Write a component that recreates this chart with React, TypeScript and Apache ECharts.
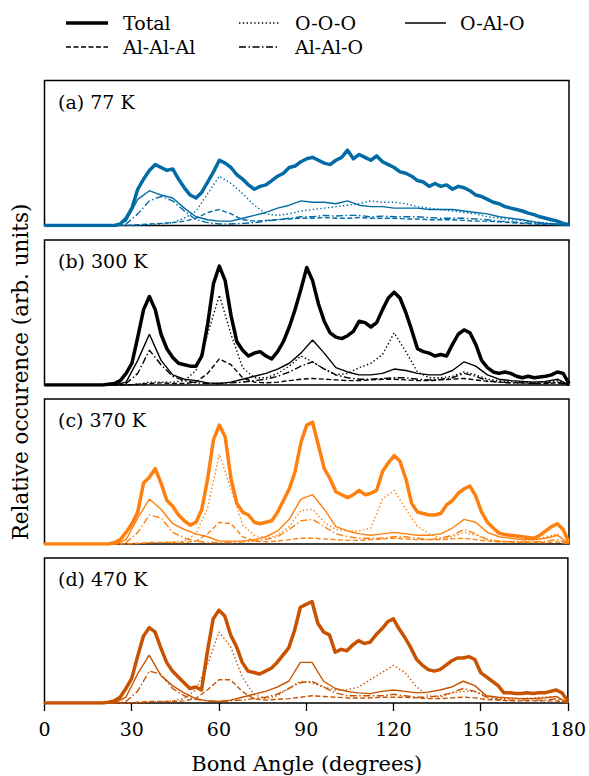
import React, { useEffect, useRef } from "react";
import * as echarts from "echarts";

// Angles (degrees) of the sampled points
const totalAngles = Array.from({ length: 81 }, (_, i) => 20 + 2 * i);
const compAngles = Array.from({ length: 41 }, (_, i) => 20 + 4 * i);
const xTicks = [0, 30, 60, 90, 120, 150, 180];

const panelLabels = ["(a) 77 K", "(b) 300 K", "(c) 370 K", "(d) 470 K"];
const panelColors = ["#006BA4", "#000000", "#FF800E", "#C85200"];
const seriesNames = ["Total", "Al-Al-Al", "O-O-O", "Al-Al-O", "O-Al-O"];

// ---- (a) 77 K ----
const totalA = [
  0, 0, 0, 1, 5, 12, 25, 32, 38, 42,
  40, 38, 39, 32, 26, 21, 19, 23, 30, 37,
  45, 43, 40, 35, 32, 28, 25, 27, 28, 31,
  34, 36, 40, 41, 44, 46, 47, 45, 43, 42,
  45, 47, 52, 46, 49, 47, 45, 48, 44, 42,
  40, 37, 36, 34, 31, 30, 27, 29, 27, 28,
  25, 27, 26, 24, 21, 20, 18, 16, 15, 13,
  12, 11, 10, 8.5, 7.5, 6, 5, 4, 3, 1.5,
  0.5,
];
const oaloA = [0, 0, 3, 18, 24, 21, 19, 12, 6, 4, 3, 3, 5, 7, 9, 12, 14, 17, 16, 16, 15, 17, 14, 13, 13, 12, 12, 12, 11, 11, 11, 10, 9, 8, 6, 5, 4, 2.5, 1.5, 1, 0];
const alaloA = [0, 0, 1, 8, 17, 20, 17, 10, 4, 2, 1, 1, 1.5, 2, 3, 4, 5, 6, 6, 7, 6.5, 7, 7, 6, 6.5, 6, 6, 6, 5.5, 5, 5, 5, 4.5, 4, 3, 2.5, 2, 1.5, 1, 0.5, 0];
const alalalA = [0, 0, 0, 0.5, 1, 1.5, 2, 3, 5, 9, 11, 8, 4, 3, 3.5, 4, 4.5, 5, 5, 5.5, 5, 5, 5.5, 5, 5, 5, 4.5, 4.5, 4, 4, 4, 3.5, 3, 3, 2.5, 2, 1.5, 1, 0.8, 0.5, 0];
const oooA = [0, 0, 0, 0, 0.5, 1, 2, 5, 10, 22, 34, 29, 22, 14, 8, 7, 8, 10, 11, 12, 13, 14, 15, 17, 16, 16, 15, 13, 12, 11, 10, 9, 8, 6, 5, 4, 3.5, 2.5, 2, 1, 0];

// ---- (b) 300 K ----
const totalB = [
  0, 0.5, 1, 3, 8, 15, 33, 52, 61, 52,
  35, 25, 19, 15, 14, 13, 13, 20, 42, 70,
  82, 72, 48, 30, 24, 20, 22, 23, 20, 18,
  23, 30, 40, 52, 66, 81, 72, 56, 44, 36,
  33, 32, 34, 37, 44, 43, 40, 43, 52, 60,
  64, 60, 50, 38, 25, 23, 22, 20, 21, 20,
  28, 35, 38, 36, 28, 17, 12, 9, 8, 9,
  8, 6, 5, 6, 5, 5.5, 6, 7, 9, 8,
  1,
];
const oaloB = [0, 0, 2, 17, 35, 17, 7, 4, 3, 1.5, 1, 2, 4, 6, 8, 11, 15, 22, 31, 22, 12, 9, 7, 7, 8, 11, 10, 8, 7, 7, 10, 16, 13, 7, 4, 3, 2.5, 2, 2.5, 4, 0];
const alaloB = [0, 0, 1, 8, 24, 14, 6, 3, 1.5, 1, 1, 1.5, 2, 3, 4, 6, 9, 13, 16, 11, 7, 5, 4, 4, 4.5, 5, 5, 4, 3.5, 4, 5, 8, 6, 3, 2, 1.5, 1.5, 1, 1.5, 2, 0];
const alalalB = [0, 0, 0, 0.5, 1, 1.5, 1, 1, 2, 8, 18, 14, 5, 2, 1.5, 2, 3, 4, 4.5, 4, 3.5, 3, 3, 3.5, 4, 4, 3.5, 3, 3, 3.5, 4, 4.5, 3.5, 2.5, 2, 1.5, 1.5, 1, 1, 1.5, 0];
const oooB = [0, 0, 0, 0.5, 2, 2, 2, 3, 10, 35, 62, 35, 12, 5, 5, 8, 13, 20, 16, 11, 7, 8, 12, 15, 21, 36, 23, 9, 5, 5, 6, 9, 7, 4, 3, 2.5, 2, 2, 2, 3, 0];

// ---- (c) 370 K ----
const totalC = [
  0, 0, 1, 3, 8, 14, 22, 42, 46, 52,
  42, 30, 26, 20, 16, 13, 15, 24, 45, 72,
  82, 74, 45, 28, 22, 20, 15, 14, 15, 16,
  22, 30, 38, 50, 70, 82, 84, 68, 52, 45,
  36, 34, 32, 34, 37, 34, 35, 37, 50, 56,
  61, 57, 45, 28, 22, 21, 20, 20, 21, 27,
  30, 35, 38, 40, 33, 22, 15, 11, 7.5, 6.5,
  6, 5.5, 5, 4.5, 4, 6, 9, 12, 14, 10,
  1,
];
const oaloC = [0, 0, 3, 18, 31, 24, 14, 10, 7, 5, 2, 2, 2, 3, 5, 9, 17, 31, 34, 24, 12, 9, 7, 6, 7, 8, 7, 6, 6, 7, 11, 17, 15, 8, 5, 4, 3, 3, 4, 6, 0];
const alaloC = [0, 0, 1, 8, 20, 18, 8, 4, 2, 1, 1, 1, 1.5, 2, 3, 5, 10, 16, 17, 12, 7, 5, 4, 4, 4, 5, 5, 4, 3, 4, 6, 10, 7, 3, 2, 1.5, 1.5, 1.5, 2, 3, 0];
const alalalC = [0, 0, 0, 0.5, 1, 1, 1, 1, 2, 7, 15, 14, 5, 2, 1.5, 2, 3, 4, 4, 3.5, 3, 2.5, 2.5, 3, 3.5, 4, 3.5, 3, 3, 3, 3.5, 4, 3, 2, 1.5, 1.5, 1, 1, 1, 1.5, 0];
const oooC = [0, 0, 0, 0, 1, 1, 1.5, 2, 7, 25, 62, 38, 13, 6, 4, 6, 12, 23, 24, 15, 10, 9, 9, 11, 31, 37, 24, 12, 7, 4, 5, 8, 6, 3, 2, 2, 2, 2.5, 5, 7, 0];

// ---- (d) 470 K ----
const totalD = [
  0, 0.5, 1.5, 4, 10, 17, 32, 46, 52, 49,
  38, 28, 22, 18, 14, 10, 11, 9, 35, 58,
  64, 60, 47, 39, 28, 22, 21, 20, 22, 24,
  28, 33, 38, 50, 66, 68, 70, 55, 49, 47,
  35, 37, 36, 40, 43, 41, 42, 47, 51, 56,
  58, 51, 45, 38, 30, 26, 23, 22, 23, 26,
  29, 31, 31, 32, 30, 21, 18, 15, 12, 7,
  7, 6.5, 6.5, 7, 6.5, 7, 7, 8, 9, 7,
  1,
];
const oaloD = [0, 0, 4, 20, 33, 19, 12, 7, 3, 1.5, 1, 2, 4, 6, 8, 11, 15, 28, 28, 15, 10, 8, 7, 6.5, 8, 9, 8, 7, 7.5, 9, 11, 15, 12, 5, 4, 3.5, 3, 3, 3.5, 4.5, 0];
const alaloD = [0, 0, 1, 8, 22, 20, 10, 5, 2.5, 1.5, 1, 1.5, 2, 3, 4, 6, 10, 14, 15, 11, 7, 5, 5, 5, 5, 6, 5, 4, 4, 5, 7, 10, 8, 4, 2.5, 2, 2, 2, 2, 3, 0];
const alalalD = [0, 0, 0, 0.5, 1, 1, 1, 1.5, 3, 9, 16, 16, 8, 3, 2, 2.5, 3, 4, 5, 4.5, 4, 3.5, 3.5, 3.5, 4, 4, 4, 3.5, 3, 3, 3.5, 4, 3.5, 2.5, 2, 1.5, 1.5, 1.5, 1.5, 1.5, 0];
const oooD = [0, 0, 0, 0, 0.5, 1, 1.5, 3, 9, 26, 49, 39, 18, 6, 3, 5, 10, 15, 14, 11, 9, 9, 11, 16, 21, 26, 21, 11, 5, 4, 7, 8, 8, 5, 3, 3, 3, 3.5, 4, 4.5, 0];

const panels = [
  { total: totalA, alalal: alalalA, ooo: oooA, alalo: alaloA, oalo: oaloA },
  { total: totalB, alalal: alalalB, ooo: oooB, alalo: alaloB, oalo: oaloB },
  { total: totalC, alalal: alalalC, ooo: oooC, alalo: alaloC, oalo: oaloC },
  { total: totalD, alalal: alalalD, ooo: oooD, alalo: alaloD, oalo: oaloD },
];

const FONT = "DejaVu Serif, Liberation Serif, serif";
const DOT = [1.4, 2.4];
const DASH = [5, 2.5];
const DASHDOT = [7, 2.5, 1.5, 2.5];

function pts(angles: number[], vals: number[]) {
  const out: number[][] = [[0, 0]];
  vals.forEach((v, i) => out.push([angles[i], v]));
  return out;
}

export default function App() {
  const ref = useRef<HTMLDivElement>(null);
  useEffect(() => {
    if (!ref.current) return;
    const chart = echarts.init(ref.current, undefined, { renderer: "svg" });
    const gridLeft = 44.5;
    const gridWidth = 524.5;
    const tops = [80.5, 240, 399, 558];
    const height = 145;

    const grids = tops.map((t) => ({
      left: gridLeft,
      top: t,
      width: gridWidth,
      height,
      show: true,
      borderColor: "#000",
      borderWidth: 1.5,
      backgroundColor: "transparent",
    }));

    const xAxes = tops.map((_, i) => ({
      type: "value",
      gridIndex: i,
      min: 0,
      max: 180,
      interval: 30,
      axisLine: { show: false },
      splitLine: { show: false },
      axisTick: {
        show: i === 3,
        length: 8,
        lineStyle: { color: "#000", width: 1.3 },
      },
      axisLabel: {
        show: i === 3,
        margin: 16,
        fontSize: 19,
        fontFamily: FONT,
        color: "#000",
        showMinLabel: true,
        showMaxLabel: true,
        customValues: xTicks,
      },
    }));

    const yAxes = tops.map((_, i) => ({
      type: "value",
      gridIndex: i,
      min: 0,
      max: 100,
      show: false,
      splitLine: { show: false },
    }));

    const series: any[] = [];
    panels.forEach((p, i) => {
      const color = panelColors[i];
      const comp = (name: string, vals: number[], type: any) => ({
        type: "line",
        name,
        xAxisIndex: i,
        yAxisIndex: i,
        data: pts(compAngles, vals),
        showSymbol: false,
        symbol: "none",
        lineStyle: { color, width: 1.4, type, cap: "butt" },
        z: 2,
      });
      series.push(comp("O-Al-O", p.oalo, "solid"));
      series.push(comp("O-O-O", p.ooo, DOT));
      series.push(comp("Al-Al-Al", p.alalal, DASH));
      series.push(comp("Al-Al-O", p.alalo, DASHDOT));
      series.push({
        type: "line",
        name: "Total",
        xAxisIndex: i,
        yAxisIndex: i,
        data: pts(totalAngles, p.total),
        showSymbol: false,
        symbol: "none",
        lineStyle: { color, width: 3.5, join: "round" },
        z: 3,
      });
    });

    const legendItems = [
      { name: seriesNames[0], x1: 66, x2: 108, y: 23, tx: 123, w: 3.5, dash: null },
      { name: seriesNames[1], x1: 66, x2: 108, y: 47, tx: 123, w: 1.4, dash: DASH },
      { name: seriesNames[2], x1: 239, x2: 279, y: 23, tx: 295, w: 1.4, dash: DOT },
      { name: seriesNames[3], x1: 239, x2: 279, y: 47, tx: 295, w: 1.4, dash: DASHDOT },
      { name: seriesNames[4], x1: 405, x2: 446, y: 23, tx: 460, w: 1.4, dash: null },
    ];

    const graphic: any[] = [];
    legendItems.forEach((it) => {
      graphic.push({
        type: "line",
        shape: { x1: it.x1, y1: it.y, x2: it.x2, y2: it.y },
        style: { stroke: "#000", lineWidth: it.w, lineDash: it.dash || undefined },
      });
      graphic.push({
        type: "text",
        x: it.tx,
        y: it.y,
        style: { text: it.name, font: `19px ${FONT}`, fill: "#000", align: "left", verticalAlign: "middle" },
      });
    });
    panelLabels.forEach((t, i) => {
      graphic.push({
        type: "text",
        x: 58,
        y: tops[i] + 21,
        style: { text: t, font: `19px ${FONT}`, fill: "#000", align: "left", verticalAlign: "middle" },
      });
    });
    graphic.push({
      type: "text",
      x: 306.75,
      y: 764,
      style: { text: "Bond Angle (degrees)", font: `21px ${FONT}`, fill: "#000", align: "center", verticalAlign: "middle" },
    });
    graphic.push({
      type: "text",
      x: 20,
      y: 372,
      rotation: Math.PI / 2,
      style: { text: "Relative occurence (arb. units)", font: `21.5px ${FONT}`, fill: "#000", align: "center", verticalAlign: "middle" },
    });

    chart.setOption({
      animation: false,
      backgroundColor: "#fff",
      grid: grids,
      xAxis: xAxes,
      yAxis: yAxes,
      series,
      graphic,
    });
    return () => chart.dispose();
  }, []);
  return (
    <div
      ref={ref}
      style={{ position: "absolute", left: 0, top: 0, width: 589, height: 776 }}
    />
  );
}
